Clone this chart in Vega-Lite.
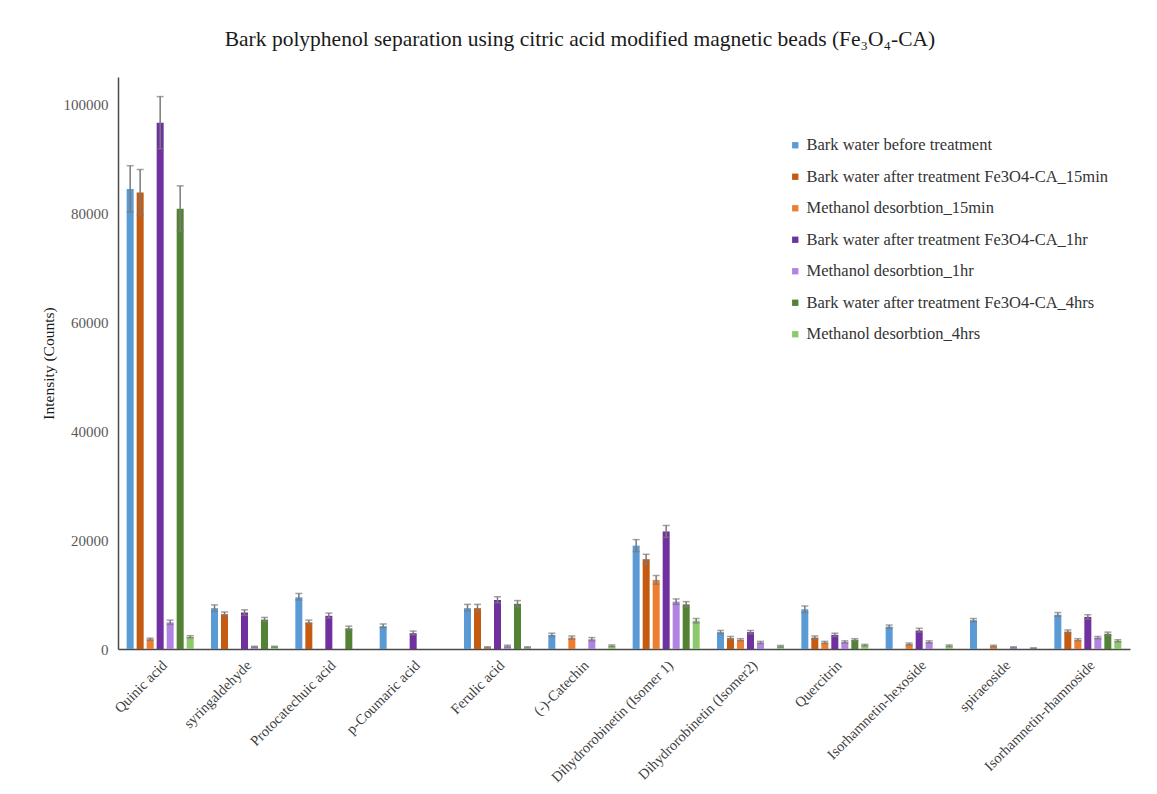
{
  "$schema": "https://vega.github.io/schema/vega-lite/v6.json",
  "width": 1012,
  "height": 572,
  "autosize": "none",
  "padding": {"left": 118, "top": 77, "right": 27, "bottom": 145},
  "background": "white",
  "title": {
    "text": "Bark polyphenol  separation using citric acid modified magnetic beads (Fe₃O₄-CA)",
    "font": "Liberation Serif",
    "fontSize": 21.5,
    "fontWeight": "normal",
    "color": "#1a1a1a",
    "anchor": "middle",
    "frame": "group",
    "dx": -44,
    "offset": 27
  },
  "config": {
    "view": {"stroke": null},
    "font": "Liberation Serif"
  },
  "datasets": {
    "rows": [
      {"c": "Quinic acid", "s": "Bark water before treatment", "v": 84500, "lo": 80300, "hi": 88800},
      {"c": "Quinic acid", "s": "Bark water after treatment Fe3O4-CA_15min", "v": 83900, "lo": 79800, "hi": 88100},
      {"c": "Quinic acid", "s": "Methanol desorbtion_15min", "v": 1800, "lo": 1600, "hi": 2000},
      {"c": "Quinic acid", "s": "Bark water after treatment Fe3O4-CA_1hr", "v": 96700, "lo": 91900, "hi": 101500},
      {"c": "Quinic acid", "s": "Methanol desorbtion_1hr", "v": 4900, "lo": 4500, "hi": 5300},
      {"c": "Quinic acid", "s": "Bark water after treatment Fe3O4-CA_4hrs", "v": 80900, "lo": 76800, "hi": 85100},
      {"c": "Quinic acid", "s": "Methanol desorbtion_4hrs", "v": 2250, "lo": 2050, "hi": 2450},

      {"c": "syringaldehyde", "s": "Bark water before treatment", "v": 7500, "lo": 6900, "hi": 8100},
      {"c": "syringaldehyde", "s": "Bark water after treatment Fe3O4-CA_15min", "v": 6400, "lo": 6100, "hi": 6800},
      {"c": "syringaldehyde", "s": "Bark water after treatment Fe3O4-CA_1hr", "v": 6700, "lo": 6200, "hi": 7200},
      {"c": "syringaldehyde", "s": "Methanol desorbtion_1hr", "v": 400, "lo": 300, "hi": 500},
      {"c": "syringaldehyde", "s": "Bark water after treatment Fe3O4-CA_4hrs", "v": 5400, "lo": 5100, "hi": 5800},
      {"c": "syringaldehyde", "s": "Methanol desorbtion_4hrs", "v": 400, "lo": 300, "hi": 500},

      {"c": "Protocatechuic acid", "s": "Bark water before treatment", "v": 9500, "lo": 9000, "hi": 10200},
      {"c": "Protocatechuic acid", "s": "Bark water after treatment Fe3O4-CA_15min", "v": 4900, "lo": 4600, "hi": 5300},
      {"c": "Protocatechuic acid", "s": "Bark water after treatment Fe3O4-CA_1hr", "v": 6100, "lo": 5700, "hi": 6600},
      {"c": "Protocatechuic acid", "s": "Bark water after treatment Fe3O4-CA_4hrs", "v": 3800, "lo": 3500, "hi": 4200},

      {"c": "p-Coumaric acid", "s": "Bark water before treatment", "v": 4200, "lo": 3900, "hi": 4600},
      {"c": "p-Coumaric acid", "s": "Bark water after treatment Fe3O4-CA_1hr", "v": 2900, "lo": 2600, "hi": 3300},

      {"c": "Ferulic acid", "s": "Bark water before treatment", "v": 7500, "lo": 7000, "hi": 8200},
      {"c": "Ferulic acid", "s": "Bark water after treatment Fe3O4-CA_15min", "v": 7500, "lo": 7000, "hi": 8200},
      {"c": "Ferulic acid", "s": "Methanol desorbtion_15min", "v": 300, "lo": 200, "hi": 400},
      {"c": "Ferulic acid", "s": "Bark water after treatment Fe3O4-CA_1hr", "v": 9000, "lo": 8500, "hi": 9600},
      {"c": "Ferulic acid", "s": "Methanol desorbtion_1hr", "v": 500, "lo": 350, "hi": 700},
      {"c": "Ferulic acid", "s": "Bark water after treatment Fe3O4-CA_4hrs", "v": 8300, "lo": 7800, "hi": 8900},
      {"c": "Ferulic acid", "s": "Methanol desorbtion_4hrs", "v": 300, "lo": 200, "hi": 400},

      {"c": "(-)-Catechin", "s": "Bark water before treatment", "v": 2600, "lo": 2300, "hi": 2900},
      {"c": "(-)-Catechin", "s": "Methanol desorbtion_15min", "v": 2100, "lo": 1800, "hi": 2400},
      {"c": "(-)-Catechin", "s": "Methanol desorbtion_1hr", "v": 1800, "lo": 1500, "hi": 2100},
      {"c": "(-)-Catechin", "s": "Methanol desorbtion_4hrs", "v": 600, "lo": 450, "hi": 750},

      {"c": "Dihydrorobinetin (Isomer 1)", "s": "Bark water before treatment", "v": 19000, "lo": 17900, "hi": 20100},
      {"c": "Dihydrorobinetin (Isomer 1)", "s": "Bark water after treatment Fe3O4-CA_15min", "v": 16500, "lo": 15600, "hi": 17400},
      {"c": "Dihydrorobinetin (Isomer 1)", "s": "Methanol desorbtion_15min", "v": 12700, "lo": 11900, "hi": 13500},
      {"c": "Dihydrorobinetin (Isomer 1)", "s": "Bark water after treatment Fe3O4-CA_1hr", "v": 21600, "lo": 20500, "hi": 22700},
      {"c": "Dihydrorobinetin (Isomer 1)", "s": "Methanol desorbtion_1hr", "v": 8700, "lo": 8200, "hi": 9200},
      {"c": "Dihydrorobinetin (Isomer 1)", "s": "Bark water after treatment Fe3O4-CA_4hrs", "v": 8200, "lo": 7700, "hi": 8700},
      {"c": "Dihydrorobinetin (Isomer 1)", "s": "Methanol desorbtion_4hrs", "v": 5200, "lo": 4800, "hi": 5600},

      {"c": "Dihydrorobinetin  (Isomer2)", "s": "Bark water before treatment", "v": 3100, "lo": 2800, "hi": 3400},
      {"c": "Dihydrorobinetin  (Isomer2)", "s": "Bark water after treatment Fe3O4-CA_15min", "v": 2000, "lo": 1700, "hi": 2300},
      {"c": "Dihydrorobinetin  (Isomer2)", "s": "Methanol desorbtion_15min", "v": 1700, "lo": 1500, "hi": 1900},
      {"c": "Dihydrorobinetin  (Isomer2)", "s": "Bark water after treatment Fe3O4-CA_1hr", "v": 3100, "lo": 2800, "hi": 3400},
      {"c": "Dihydrorobinetin  (Isomer2)", "s": "Methanol desorbtion_1hr", "v": 1200, "lo": 1000, "hi": 1400},
      {"c": "Dihydrorobinetin  (Isomer2)", "s": "Methanol desorbtion_4hrs", "v": 500, "lo": 350, "hi": 650},

      {"c": "Quercitrin", "s": "Bark water before treatment", "v": 7300, "lo": 6700, "hi": 7900},
      {"c": "Quercitrin", "s": "Bark water after treatment Fe3O4-CA_15min", "v": 2100, "lo": 1800, "hi": 2400},
      {"c": "Quercitrin", "s": "Methanol desorbtion_15min", "v": 1200, "lo": 1000, "hi": 1400},
      {"c": "Quercitrin", "s": "Bark water after treatment Fe3O4-CA_1hr", "v": 2600, "lo": 2300, "hi": 2900},
      {"c": "Quercitrin", "s": "Methanol desorbtion_1hr", "v": 1300, "lo": 1100, "hi": 1500},
      {"c": "Quercitrin", "s": "Bark water after treatment Fe3O4-CA_4hrs", "v": 1700, "lo": 1500, "hi": 1900},
      {"c": "Quercitrin", "s": "Methanol desorbtion_4hrs", "v": 700, "lo": 550, "hi": 850},

      {"c": "Isorhamnetin-hexoside", "s": "Bark water before treatment", "v": 4100, "lo": 3800, "hi": 4400},
      {"c": "Isorhamnetin-hexoside", "s": "Methanol desorbtion_15min", "v": 900, "lo": 700, "hi": 1100},
      {"c": "Isorhamnetin-hexoside", "s": "Bark water after treatment Fe3O4-CA_1hr", "v": 3400, "lo": 3100, "hi": 3800},
      {"c": "Isorhamnetin-hexoside", "s": "Methanol desorbtion_1hr", "v": 1300, "lo": 1100, "hi": 1500},
      {"c": "Isorhamnetin-hexoside", "s": "Methanol desorbtion_4hrs", "v": 600, "lo": 450, "hi": 750},

      {"c": "spiraeoside", "s": "Bark water before treatment", "v": 5300, "lo": 5000, "hi": 5600},
      {"c": "spiraeoside", "s": "Methanol desorbtion_15min", "v": 550, "lo": 400, "hi": 700},
      {"c": "spiraeoside", "s": "Methanol desorbtion_1hr", "v": 300, "lo": 200, "hi": 400},
      {"c": "spiraeoside", "s": "Methanol desorbtion_4hrs", "v": 150, "lo": 100, "hi": 200},

      {"c": "Isorhamnetin-rhamnoside", "s": "Bark water before treatment", "v": 6300, "lo": 6000, "hi": 6700},
      {"c": "Isorhamnetin-rhamnoside", "s": "Bark water after treatment Fe3O4-CA_15min", "v": 3200, "lo": 2900, "hi": 3500},
      {"c": "Isorhamnetin-rhamnoside", "s": "Methanol desorbtion_15min", "v": 1700, "lo": 1500, "hi": 1900},
      {"c": "Isorhamnetin-rhamnoside", "s": "Bark water after treatment Fe3O4-CA_1hr", "v": 5900, "lo": 5500, "hi": 6300},
      {"c": "Isorhamnetin-rhamnoside", "s": "Methanol desorbtion_1hr", "v": 2100, "lo": 1900, "hi": 2300},
      {"c": "Isorhamnetin-rhamnoside", "s": "Bark water after treatment Fe3O4-CA_4hrs", "v": 2800, "lo": 2500, "hi": 3100},
      {"c": "Isorhamnetin-rhamnoside", "s": "Methanol desorbtion_4hrs", "v": 1500, "lo": 1300, "hi": 1700}
    ]
  },
  "data": {"name": "rows"},
  "encoding": {
    "x": {
      "field": "c",
      "type": "nominal",
      "sort": ["Quinic acid", "syringaldehyde", "Protocatechuic acid", "p-Coumaric acid", "Ferulic acid", "(-)-Catechin", "Dihydrorobinetin (Isomer 1)", "Dihydrorobinetin  (Isomer2)", "Quercitrin", "Isorhamnetin-hexoside", "spiraeoside", "Isorhamnetin-rhamnoside"],
      "scale": {"paddingInner": 0, "paddingOuter": 0},
      "axis": {
        "title": null,
        "labelAngle": -45,
        "labelFont": "Liberation Serif",
        "labelFontSize": 14.5,
        "labelColor": "#404040",
        "labelPadding": 9,
        "ticks": false,
        "domainColor": "#4a4a4a",
        "domainWidth": 1.5,
        "labelLimit": 300
      }
    },
    "xOffset": {
      "field": "s",
      "type": "nominal",
      "scale": {
        "domain": ["Bark water before treatment", "Bark water after treatment Fe3O4-CA_15min", "Methanol desorbtion_15min", "Bark water after treatment Fe3O4-CA_1hr", "Methanol desorbtion_1hr", "Bark water after treatment Fe3O4-CA_4hrs", "Methanol desorbtion_4hrs"],
        "paddingInner": 0.3,
        "paddingOuter": 0.866
      }
    }
  },
  "layer": [
    {
      "mark": {"type": "bar"},
      "encoding": {
        "y": {
          "field": "v",
          "type": "quantitative",
          "scale": {"domain": [0, 105100], "nice": false},
          "axis": {
            "title": "Intensity (Counts)",
            "titleFont": "Liberation Serif",
            "titleFontSize": 15.5,
            "titleFontWeight": "normal",
            "titleColor": "#1a1a1a",
            "titlePadding": 7,
            "values": [0, 20000, 40000, 60000, 80000, 100000],
            "format": "d",
            "labelFont": "Liberation Serif",
            "labelFontSize": 15,
            "labelColor": "#595959",
            "labelPadding": 10,
            "ticks": false,
            "grid": false,
            "domainColor": "#4a4a4a",
            "domainWidth": 1.5
          }
        },
        "color": {
          "field": "s",
          "type": "nominal",
          "scale": {
            "domain": ["Bark water before treatment", "Bark water after treatment Fe3O4-CA_15min", "Methanol desorbtion_15min", "Bark water after treatment Fe3O4-CA_1hr", "Methanol desorbtion_1hr", "Bark water after treatment Fe3O4-CA_4hrs", "Methanol desorbtion_4hrs"],
            "range": ["#5B9BD5", "#C55A11", "#ED7D31", "#7030A0", "#B084E0", "#548235", "#8DC96C"]
          },
          "legend": {
            "title": null,
            "orient": "none",
            "legendX": 669,
            "legendY": 60,
            "symbolType": "square",
            "symbolSize": 40,
            "symbolStrokeWidth": 0,
            "labelFont": "Liberation Serif",
            "labelFontSize": 16.5,
            "labelColor": "#333333",
            "labelLimit": 400,
            "labelOffset": 3,
            "rowPadding": 14.5
          }
        }
      }
    },
    {
      "mark": {"type": "rule", "color": "#7a7a7a", "strokeWidth": 1.5},
      "encoding": {
        "y": {"field": "lo", "type": "quantitative"},
        "y2": {"field": "hi"}
      }
    },
    {
      "mark": {"type": "tick", "color": "#7a7a7a", "thickness": 1.5, "size": 7},
      "encoding": {
        "y": {"field": "hi", "type": "quantitative"}
      }
    },
    {
      "mark": {"type": "tick", "color": "#7a7a7a", "thickness": 1.5, "size": 7},
      "encoding": {
        "y": {"field": "lo", "type": "quantitative"}
      }
    }
  ]
}
